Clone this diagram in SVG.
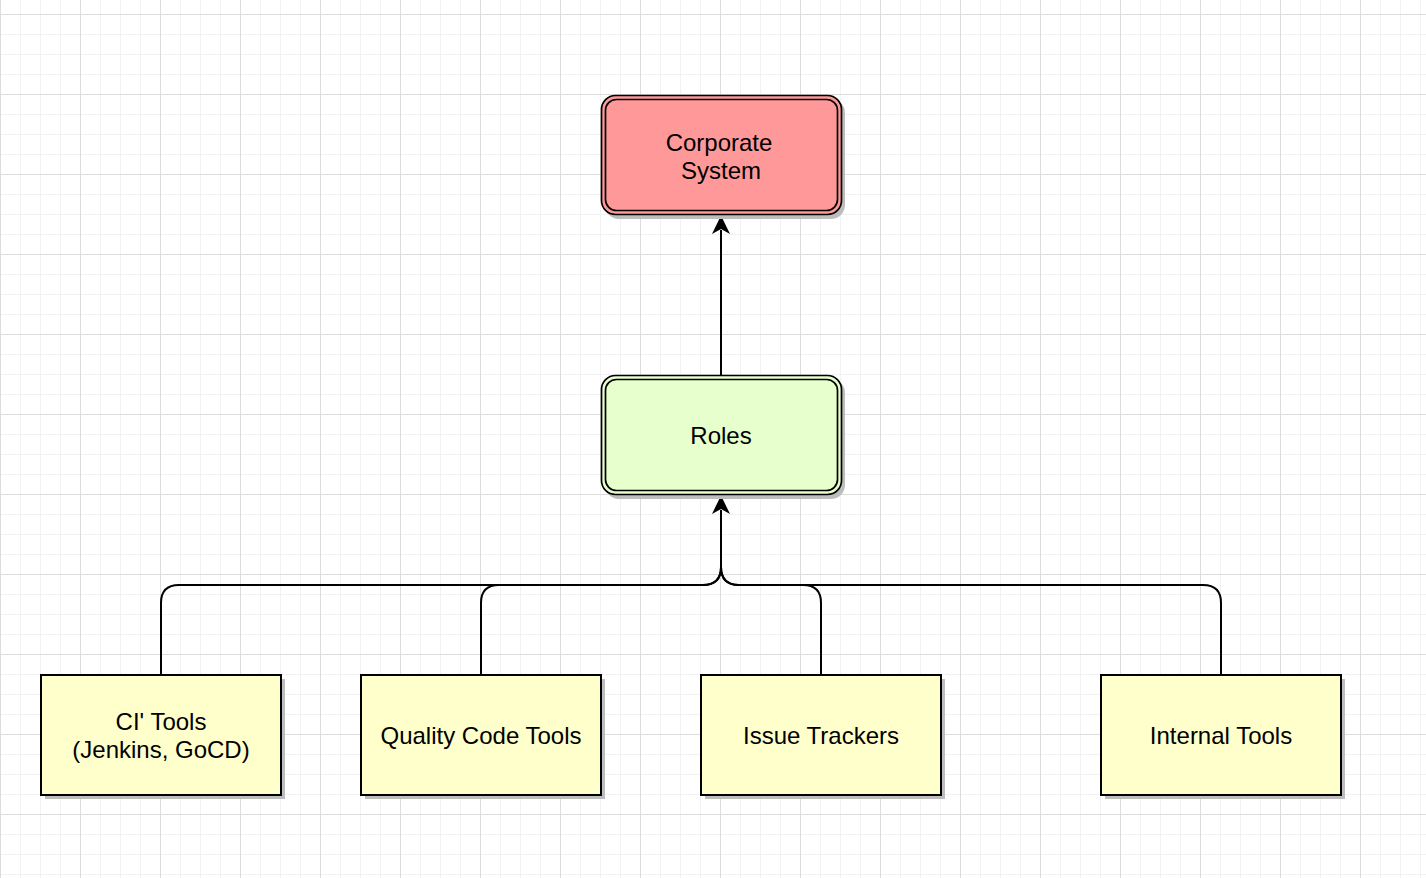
<svg xmlns="http://www.w3.org/2000/svg" width="1426" height="878" viewBox="0 0 1426 878">
<style>
.lbl{font-family:"Liberation Sans",Arial,sans-serif;font-size:24px;fill:#000;text-anchor:middle}
.edge{fill:none;stroke:#000;stroke-width:2}
.box{fill:#FFFFCC;stroke:#000;stroke-width:2}
.shadow{fill:#bdbdbd}
.rout{stroke:#000;stroke-width:1.7}
.rin{fill:none;stroke:#000;stroke-width:1.7}
</style>
<defs>
<pattern id="grid" patternUnits="userSpaceOnUse" x="0" y="14" width="80" height="80">
<path d="M20.5 0V80M40.5 0V80M60.5 0V80M0 20.5H80M0 40.5H80M0 60.5H80" stroke="#f2f2f2" stroke-width="1" fill="none"/>
<path d="M0.5 0V80M0 0.5H80" stroke="#dcdcdc" stroke-width="1" fill="none"/>
</pattern>
</defs>
<rect width="1426" height="878" fill="#fff"/>
<rect width="1426" height="878" fill="url(#grid)"/>

<g id="connectors">
<path class="edge" d="M721 375V230"/>
<path d="M721 215.5L730 234L721 229L712 234Z" fill="#000"/>
<path class="edge" d="M161 675V603Q161 585 179 585H703Q721 585 721 567V510"/>
<path class="edge" d="M481 675V603Q481 585 499 585H703Q721 585 721 567V510"/>
<path class="edge" d="M821 675V603Q821 585 803 585H739Q721 585 721 567V510"/>
<path class="edge" d="M1221 675V603Q1221 585 1203 585H739Q721 585 721 567V510"/>
<path d="M721 495.5L730 514L721 509L712 514Z" fill="#000"/>
</g>

<g id="corporate">
<rect class="shadow" x="605" y="99" width="240" height="120" rx="14"/>
<rect class="rout" x="601.5" y="95.5" width="240" height="119" rx="14" fill="#FF9999"/>
<rect class="rin" x="605.5" y="99.5" width="232" height="111" rx="11"/>
<text class="lbl" x="719" y="150.5">Corporate</text>
<text class="lbl" x="721" y="178.5">System</text>
</g>

<g id="roles">
<rect class="shadow" x="605" y="379" width="240" height="120" rx="14"/>
<rect class="rout" x="601.5" y="375.5" width="240" height="119" rx="14" fill="#E6FFCC"/>
<rect class="rin" x="605.5" y="379.5" width="232" height="111" rx="11"/>
<text class="lbl" x="721" y="444">Roles</text>
</g>

<g id="ci-tools">
<rect class="shadow" x="45" y="679" width="240" height="120"/>
<rect class="box" x="41" y="675" width="240" height="120"/>
<text class="lbl" x="161" y="730">CI' Tools</text>
<text class="lbl" x="161" y="758">(Jenkins, GoCD)</text>
</g>

<g id="quality-code-tools">
<rect class="shadow" x="365" y="679" width="240" height="120"/>
<rect class="box" x="361" y="675" width="240" height="120"/>
<text class="lbl" x="481" y="744">Quality Code Tools</text>
</g>

<g id="issue-trackers">
<rect class="shadow" x="705" y="679" width="240" height="120"/>
<rect class="box" x="701" y="675" width="240" height="120"/>
<text class="lbl" x="821" y="744">Issue Trackers</text>
</g>

<g id="internal-tools">
<rect class="shadow" x="1105" y="679" width="240" height="120"/>
<rect class="box" x="1101" y="675" width="240" height="120"/>
<text class="lbl" x="1221" y="744">Internal Tools</text>
</g>
</svg>
